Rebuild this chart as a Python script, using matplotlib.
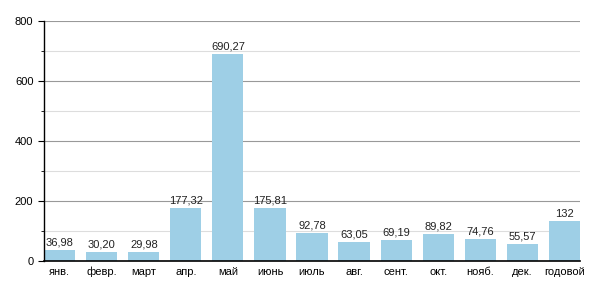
import numpy as np
import matplotlib
matplotlib.use("Agg")
import matplotlib.pyplot as plt
from matplotlib.ticker import MultipleLocator

months = ["янв.", "февр.", "март", "апр.", "май", "июнь", "июль", "авг.",
          "сент.", "окт.", "нояб.", "дек.", "годовой"]
values = [36.98, 30.20, 29.98, 177.32, 690.27, 175.81, 92.78, 63.05,
          69.19, 89.82, 74.76, 55.57, 132]
labels = ["36,98", "30,20", "29,98", "177,32", "690,27", "175,81", "92,78",
          "63,05", "69,19", "89,82", "74,76", "55,57", "132"]

plt.rcParams['font.family'] = ['Liberation Sans', 'DejaVu Sans']

fig = plt.figure(figsize=(6, 3), dpi=100)
ax = fig.add_axes([0.073, 0.13, 0.894, 0.80])

x = np.arange(len(months))
ax.bar(x, values, width=0.74, color="#9ecfe6", zorder=2)
for xi, v, lab in zip(x, values, labels):
    ax.text(xi, v + 8, lab, ha="center", va="bottom", fontsize=8, color="#222222", zorder=3)

ax.set_xlim(-0.38, len(months) - 0.62)
ax.set_ylim(0, 800)
ax.yaxis.set_major_locator(MultipleLocator(200))
ax.yaxis.set_minor_locator(MultipleLocator(100))
ax.grid(axis="y", which="major", color="#999999", linewidth=0.8, zorder=0)
ax.grid(axis="y", which="minor", color="#dddddd", linewidth=0.8, zorder=0)
ax.set_xticks(x)
ax.set_xticklabels(months)
ax.tick_params(axis="x", length=0, labelsize=8, pad=4)
ax.tick_params(axis="y", which="major", length=4, labelsize=8, direction="out")
ax.tick_params(axis="y", which="minor", length=2, direction="out")
for s in ["top", "right"]:
    ax.spines[s].set_visible(False)
ax.spines["left"].set_linewidth(1)
ax.spines["bottom"].set_linewidth(1.2)

fig.savefig("out.png", dpi=100)
